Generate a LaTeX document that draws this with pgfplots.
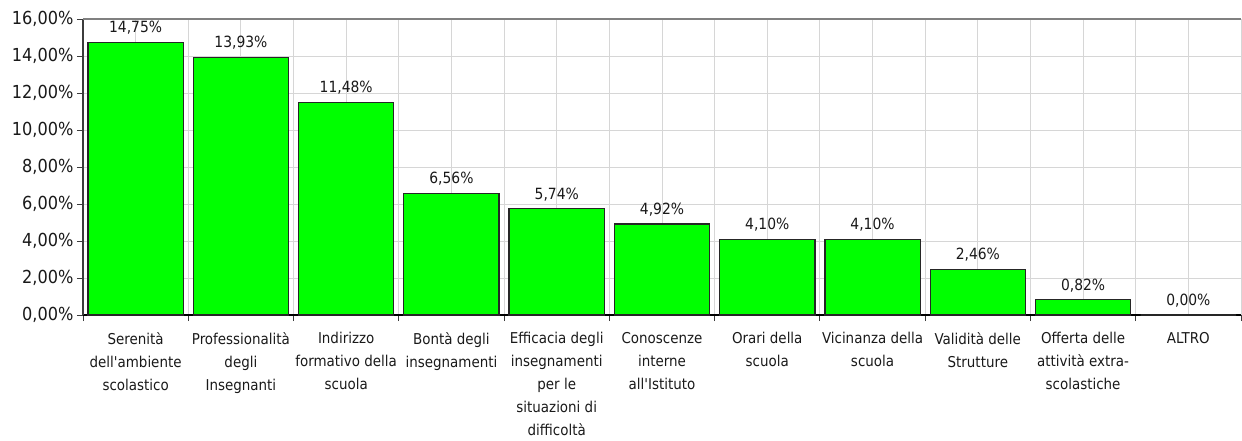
\documentclass[border=0pt]{standalone}
\usepackage{fontspec}
\setmainfont{DejaVu Sans Condensed}
\usepackage{pgfplots}
\pgfplotsset{compat=1.18}
\definecolor{bargreen}{RGB}{0,255,0}
\definecolor{gridgray}{RGB}{214,214,214}
\definecolor{topgray}{RGB}{128,128,128}
\definecolor{axisdark}{RGB}{60,60,60}
\begin{document}
\begin{tikzpicture}
\begin{axis}[
  scale only axis, width=1158bp, height=296bp,
  xmin=-0.5, xmax=10.5, ymin=0, ymax=16,
  axis x line*=bottom, axis y line*=left,
  x axis line style={black, line width=1.3pt, -},
  y axis line style={axisdark, line width=1.3pt, -},
  clip=false,
  tick align=outside,
  xtick={0,...,10},
  minor xtick={-0.5,0.5,...,10.5},
  major x tick style={draw=none},
  minor x tick style={axisdark, line width=1pt},
  minor tick length=6bp,
  major tick length=6bp,
  y tick style={axisdark, line width=1pt},
  ytick={0,2,...,16},
  yticklabels={{0,00\%},{2,00\%},{4,00\%},{6,00\%},{8,00\%},{10,00\%},{12,00\%},{14,00\%},{16,00\%}},
  yticklabel style={font=\fontsize{18}{18}\selectfont, text=black!90},
  grid=both,
  major grid style={gridgray, line width=1pt},
  minor grid style={gridgray, line width=1pt},
  xticklabels={
    {Serenità\\dell\textquotesingle ambiente\\scolastico},
    {Professionalità\\degli\\Insegnanti},
    {Indirizzo\\formativo della\\scuola},
    {Bontà degli\\insegnamenti},
    {Efficacia degli\\insegnamenti\\per le\\situazioni di\\difficoltà},
    {Conoscenze\\interne\\all\textquotesingle Istituto},
    {Orari della\\scuola},
    {Vicinanza della\\scuola},
    {Validità delle\\Strutture},
    {Offerta delle\\attività extra-\\scolastiche},
    {ALTRO}},
  xticklabel style={font=\fontsize{15}{23}\selectfont, align=center, text=black!90, yshift=-8bp},
  ybar, bar width=0.905,
  nodes near coords,
  point meta=explicit symbolic,
  every node near coord/.append style={font=\fontsize{15.5}{16}\selectfont, text=black!90, yshift=4bp},
]
\addplot[fill=bargreen, draw=black!85, line width=1.2pt] coordinates {
  (0,14.75) [14,75\%]
  (1,13.93) [13,93\%]
  (2,11.48) [11,48\%]
  (3,6.56) [6,56\%]
  (4,5.74) [5,74\%]
  (5,4.92) [4,92\%]
  (6,4.10) [4,10\%]
  (7,4.10) [4,10\%]
  (8,2.46) [2,46\%]
  (9,0.82) [0,82\%]
  (10,0.00) [0,00\%]
};
\draw[topgray, line width=1.3pt] (rel axis cs:0,1) -- (rel axis cs:1,1);
\end{axis}
\pgfresetboundingbox
\useasboundingbox ([shift={(-83bp,-126bp)}]current axis.south west) rectangle ([shift={(1bp,19bp)}]current axis.north east);
\end{tikzpicture}
\end{document}
